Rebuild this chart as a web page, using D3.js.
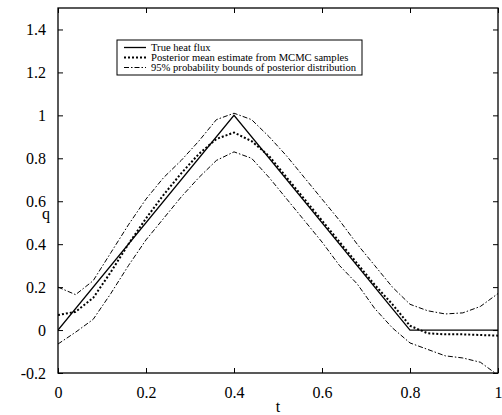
<!DOCTYPE html>
<html>
<head>
<meta charset="utf-8">
<script src="https://cdn.jsdelivr.net/npm/d3@7"></script>
<style>
  body { margin: 0; background: #fff; }
  svg, svg text { font-family: "Liberation Serif", "Times New Roman", serif !important; }
</style>
</head>
<body>
<div id="container"></div>
<script>
// chart values
const tTrue = [0, 0.4, 0.8, 1];
const qTrue = [0, 1, 0, 0];

const tGrid = [0, 0.04, 0.08, 0.12, 0.16, 0.2, 0.24, 0.28, 0.32, 0.36, 0.4, 0.44, 0.48,
  0.52, 0.56, 0.6, 0.64, 0.68, 0.72, 0.76, 0.8, 0.84, 0.88, 0.92, 0.96, 1];
const qMean = [0.07, 0.085, 0.15, 0.27, 0.40, 0.52, 0.63, 0.73, 0.82, 0.89, 0.92, 0.88, 0.81,
  0.71, 0.61, 0.51, 0.41, 0.31, 0.21, 0.12, 0.02, -0.015, -0.02, -0.02, -0.023, -0.026];
const qUpper = [0.20, 0.165, 0.23, 0.36, 0.49, 0.61, 0.71, 0.79, 0.88, 0.98, 1.01, 0.98, 0.90,
  0.81, 0.71, 0.61, 0.51, 0.40, 0.30, 0.20, 0.12, 0.09, 0.075, 0.08, 0.11, 0.17];
const qLower = [-0.065, -0.01, 0.05, 0.17, 0.30, 0.42, 0.52, 0.62, 0.71, 0.79, 0.83, 0.80, 0.71,
  0.61, 0.51, 0.41, 0.30, 0.215, 0.10, 0.01, -0.06, -0.09, -0.12, -0.13, -0.15, -0.21];

const xTicks = [0, 0.2, 0.4, 0.6, 0.8, 1];
const yTicks = [-0.2, 0, 0.2, 0.4, 0.6, 0.8, 1, 1.2, 1.4];

const legendLabels = [
  "True heat flux",
  "Posterior mean estimate from MCMC samples",
  "95% probability bounds of posterior distribution"
];

const width = 502;
const height = 415;
const marginTop = 8;
const marginRight = 4;
const marginBottom = 42;
const marginLeft = 58;

const svg = d3.select("#container")
  .append("svg")
  .attr("width", width)
  .attr("height", height);

const x = d3.scaleLinear()
  .domain([0, 1])
  .range([marginLeft, width - marginRight]);

const y = d3.scaleLinear()
  .domain([-0.2, 1.5])
  .range([height - marginBottom, marginTop]);

// clip so the lower bound doesn't spill below the axis
svg.append("clipPath").attr("id", "plot")
  .append("rect")
  .attr("x", x(0)).attr("y", y(1.5))
  .attr("width", x(1) - x(0)).attr("height", y(-0.2) - y(1.5));

const line = d3.line().x(d => x(d[0])).y(d => y(d[1]));

const series = [
  { t: tTrue, q: qTrue, dash: null, w: 1.3 },
  { t: tGrid, q: qMean, dash: "2,2", w: 2 },
  { t: tGrid, q: qUpper, dash: "5,2,1.5,2", w: 1 },
  { t: tGrid, q: qLower, dash: "5,2,1.5,2", w: 1 }
];

const plot = svg.append("g").attr("clip-path", "url(#plot)");
plot.selectAll("path")
  .data(series)
  .join("path")
  .attr("fill", "none")
  .attr("stroke", "#000")
  .attr("stroke-width", d => d.w)
  .attr("stroke-dasharray", d => d.dash)
  .attr("d", d => line(d.t.map((t, i) => [t, d.q[i]])));

// axes, ticks pointing inward on all four sides
const fmt = d => String(+d.toFixed(1));
const axStyle = g => {
  g.attr("font-family", null).attr("font-size", 16);
  g.select(".domain").remove();
  g.selectAll("line").attr("stroke", "#000");
  g.selectAll("text").attr("fill", "#000");
};

svg.append("g")
  .attr("transform", `translate(0,${y(-0.2)})`)
  .call(d3.axisBottom(x).tickValues(xTicks).tickFormat(fmt).tickSizeInner(-5).tickPadding(14))
  .call(axStyle);
svg.append("g")
  .attr("transform", `translate(0,${y(1.5)})`)
  .call(d3.axisTop(x).tickValues(xTicks).tickFormat("").tickSizeInner(-5))
  .call(axStyle);
svg.append("g")
  .attr("transform", `translate(${x(0)},0)`)
  .call(d3.axisLeft(y).tickValues(yTicks).tickFormat(fmt).tickSizeInner(-5).tickPadding(12))
  .call(axStyle);
svg.append("g")
  .attr("transform", `translate(${x(1)},0)`)
  .call(d3.axisRight(y).tickValues(yTicks).tickFormat("").tickSizeInner(-5))
  .call(axStyle);

svg.append("rect")
  .attr("x", x(0)).attr("y", y(1.5))
  .attr("width", x(1) - x(0)).attr("height", y(-0.2) - y(1.5))
  .attr("fill", "none").attr("stroke", "#000").attr("stroke-width", 1.3);

svg.append("text")
  .attr("x", (x(0) + x(1)) / 2).attr("y", height - 3)
  .attr("text-anchor", "middle").attr("font-size", 16)
  .text("t");
svg.append("text")
  .attr("x", 46).attr("y", 219)
  .attr("text-anchor", "middle").attr("font-size", 16)
  .text("q");

// legend
const legend = svg.append("g").attr("transform", "translate(117,40)");
legend.append("rect")
  .attr("width", 245).attr("height", 35)
  .attr("fill", "#fff").attr("stroke", "#000").attr("stroke-width", 1);
const rows = legend.selectAll("g.row")
  .data(legendLabels)
  .join("g")
  .attr("class", "row")
  .attr("transform", (d, i) => `translate(0,${7.5 + i * 10})`);
rows.append("line")
  .attr("x1", 7).attr("x2", 29)
  .attr("stroke", "#000")
  .attr("stroke-width", (d, i) => series[i].w)
  .attr("stroke-dasharray", (d, i) => series[i].dash);
rows.append("text")
  .attr("x", 34).attr("dy", "0.35em")
  .attr("font-size", 10.6)
  .text(d => d);
</script>
</body>
</html>
